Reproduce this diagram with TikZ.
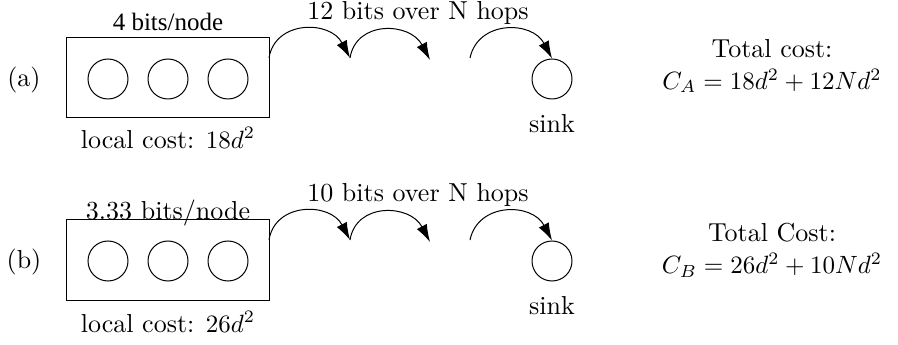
\documentclass[tikz,border=0pt]{standalone}
\usepackage{fontspec}
\newfontfamily\timesfont{Liberation Serif}
\usetikzlibrary{arrows.meta}

\tikzset{
  cluster/.style={draw, minimum width=80.8pt, minimum height=32pt, inner sep=0pt},
  sensor/.style={draw, circle, minimum size=16pt, inner sep=0pt},
  hop/.style={-{Latex[length=7pt, width=4.5pt]}},
}

\begin{document}
\begin{tikzpicture}[x=0.4pt, y=-0.4pt, every node/.style={font=\fontsize{10.4}{12.8}\selectfont}]
    \useasboundingbox (0,0) rectangle (898,345);

    % (a): 4 bits per node
    \node (taga) at (24,80) {(a)};
    \node[cluster] (boxa) at (168,78) {};
    \node[sensor] (a1) at (108,79) {};
    \node[sensor] (a2) at (168,79) {};
    \node[sensor] (a3) at (228,79) {};
    \node[font=\timesfont] (bitsa) at (168,22) {4 bits/node};
    \node (locala) at (168,138) {local cost: $18d^2$};
    \node[sensor] (sinka) at (552,79) {};
    \node (sinklabela) at (552,124) {sink};
    \node (hopsa) at (418,13) {12 bits over N hops};
    \node[align=center] (totala) at (772,66) {Total cost:\\$C_A = 18d^2 + 12Nd^2$};

    \coordinate (ha0) at (269,58);
    \coordinate (ha1) at (350,58);
    \coordinate (ha2) at (430,60);
    \coordinate (ha3) at (470,58);
    \draw[hop] (ha0) .. controls +(6,-38) and +(-20,-38) .. (ha1);
    \draw[hop] (ha1) .. controls +(6,-38) and +(-20,-38) .. (ha2);
    \draw[hop] (ha3) .. controls +(8,-38) and +(-20,-38) .. (sinka.north);

    % (b): 3.33 bits per node
    \node (tagb) at (24,262) {(b)};
    \node[cluster] (boxb) at (168,260) {};
    \node[sensor] (b1) at (108,261) {};
    \node[sensor] (b2) at (168,261) {};
    \node[sensor] (b3) at (228,261) {};
    \node[anchor=base] (bitsb) at (168,220) {3.33 bits/node};
    \node (localb) at (168,322) {local cost: $26d^2$};
    \node[sensor] (sinkb) at (552,261) {};
    \node (sinklabelb) at (552,306) {sink};
    \node (hopsb) at (418,195) {10 bits over N hops};
    \node[align=center] (totalb) at (772,250) {Total Cost:\\$C_B = 26d^2 + 10Nd^2$};

    \coordinate (hb0) at (269,240);
    \coordinate (hb1) at (350,240);
    \coordinate (hb2) at (430,242);
    \coordinate (hb3) at (470,240);
    \draw[hop] (hb0) .. controls +(6,-38) and +(-20,-38) .. (hb1);
    \draw[hop] (hb1) .. controls +(6,-38) and +(-20,-38) .. (hb2);
    \draw[hop] (hb3) .. controls +(8,-38) and +(-20,-38) .. (sinkb.north);
\end{tikzpicture}
\end{document}
